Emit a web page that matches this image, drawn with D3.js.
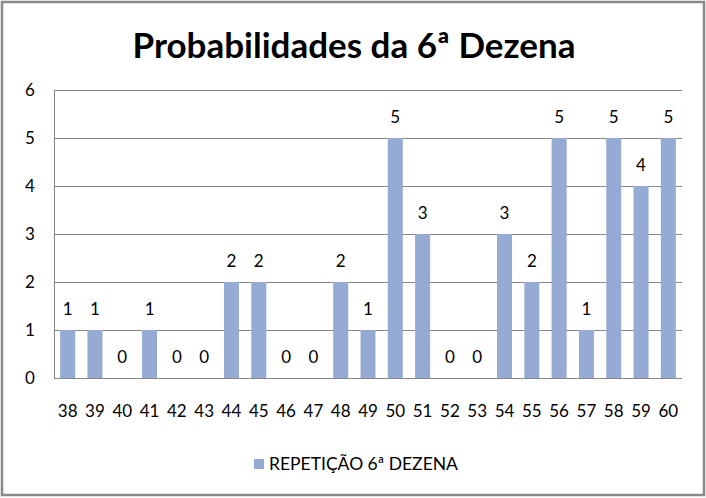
<!DOCTYPE html>
<html><head><meta charset="utf-8">
<script src="https://cdn.jsdelivr.net/npm/d3@7"></script>
<style>body{margin:0;background:#fff}svg{display:block}text{font-family:Lato,"Open Sans",sans-serif}</style>
</head><body>
<svg id="c" width="706" height="498"></svg>
<script>
const title = "Probabilidades da 6ª Dezena";
const seriesName = "REPETIÇÃO 6ª DEZENA";
const categories = ["38","39","40","41","42","43","44","45","46","47","48","49","50","51","52","53","54","55","56","57","58","59","60"];
const values = [1,1,0,1,0,0,2,2,0,0,2,1,5,3,0,0,3,2,5,1,5,4,5];
const yTicks = [0,1,2,3,4,5,6];

const svg = d3.select("#c");
const W = 706, H = 498;
const m = {left:54, right:24, top:90, bottom:120};
const barColor = "#95abd3", gridColor = "#868686";

svg.append("rect").attr("x",2).attr("y",2).attr("width",W-4).attr("height",H-5)
  .attr("fill","#fff").attr("stroke","#898989").attr("stroke-width",2.5);

svg.append("text").attr("x",354).attr("y",58).attr("text-anchor","middle")
  .attr("font-size",35).attr("font-weight","bold").attr("fill","#000").text(title);

const x = d3.scaleBand().domain(categories).range([m.left, W-m.right]).paddingInner(0.45).paddingOuter(0.225);
const y = d3.scaleLinear().domain([0,6]).range([H-m.bottom, m.top]);

const g = svg.append("g");
g.selectAll("line.grid").data(yTicks).join("line")
  .attr("x1",m.left).attr("x2",W-m.right)
  .attr("y1",d=>Math.round(y(d))+0.5).attr("y2",d=>Math.round(y(d))+0.5)
  .attr("stroke",gridColor).attr("stroke-width",1);
g.append("line").attr("x1",m.left+0.5).attr("x2",m.left+0.5)
  .attr("y1",y(6)).attr("y2",y(0)).attr("stroke",gridColor);

g.selectAll("text.yt").data(yTicks).join("text")
  .attr("x",30).attr("y",d=>y(d)).attr("dy","0.35em").attr("text-anchor","middle")
  .attr("font-size",17).attr("fill","#000").text(d=>d);

g.selectAll("rect.bar").data(values).join("rect")
  .attr("x",(d,i)=>x(categories[i])).attr("width",x.bandwidth())
  .attr("y",d=>y(d)).attr("height",d=>y(0)-y(d)).attr("fill",barColor);

g.selectAll("text.vl").data(values).join("text")
  .attr("x",(d,i)=>x(categories[i])+x.bandwidth()/2).attr("y",d=>y(d)-15)
  .attr("text-anchor","middle").attr("font-size",17).attr("fill","#000").text(d=>d);

g.selectAll("text.xt").data(categories).join("text")
  .attr("x",d=>x(d)+x.bandwidth()/2).attr("y",y(0)+33).attr("dy","0.35em")
  .attr("text-anchor","middle").attr("font-size",17).attr("fill","#000").text(d=>d);

const lg = svg.append("g");
lg.append("rect").attr("x",254).attr("y",459).attr("width",10).attr("height",10).attr("fill",barColor);
lg.append("text").attr("x",269).attr("y",464).attr("dy","0.35em").attr("font-size",17.5).attr("fill","#000").text(seriesName);
</script>
</body></html>
